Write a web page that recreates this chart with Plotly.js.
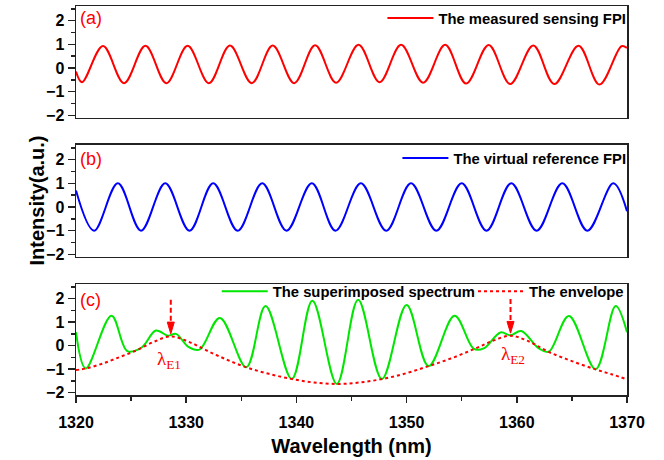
<!DOCTYPE html>
<html>
<head>
<meta charset="utf-8">
<script src="https://cdn.plot.ly/plotly-3.0.1.min.js"></script>
<style>html,body{margin:0;padding:0;background:#fff;}#chart{width:664px;height:460px;}</style>
</head>
<body>
<div id="chart"></div>
<script>
// ---- data ----
// (a) measured sensing FPI: extrema positions (nm) and intensities
const sensX = [1320, 1320.55, 1322.45, 1324.36, 1326.3, 1328.2, 1330.13, 1332.06, 1333.97, 1335.95, 1337.85, 1339.8, 1341.7, 1343.6, 1345.64, 1347.55, 1349.5, 1351.5, 1353.5, 1355.4, 1357.45, 1359.4, 1361.5, 1363.4, 1365.6, 1367.5, 1369.5, 1370];
const sensY = [-0.15, -0.6, 0.93, -0.64, 0.94, -0.64, 0.94, -0.64, 0.95, -0.64, 0.95, -0.64, 0.96, -0.62, 0.98, -0.6, 0.98, -0.62, 0.98, -0.66, 0.97, -0.68, 0.95, -0.68, 0.94, -0.7, 0.92, 0.85];
// (b) virtual reference FPI
const refX = [1320, 1321.64, 1323.8, 1325.9, 1328.1, 1330.3, 1332.45, 1334.67, 1336.9, 1339.1, 1341.4, 1343.55, 1345.85, 1348.15, 1350.4, 1352.7, 1355.0, 1357.25, 1359.5, 1361.8, 1364.13, 1366.4, 1368.76, 1370];
const refY = [0.7, -1, 1, -1, 1, -1, 1, -1, 1, -1, 1, -1, 1, -1, 1, -1, 1, -1, 1, -1, 1, -1, 1, -0.18];
// (c) superimposed spectrum
const supX = [1320, 1320.88, 1323.22, 1324.65, 1325.95, 1327.25, 1328.37, 1329.07, 1330.2, 1331.2, 1333.06, 1335.45, 1337.2, 1339.58, 1341.45, 1343.67, 1345.6, 1347.76, 1350.0, 1352.0, 1354.35, 1356.1, 1357.0, 1358.52, 1359.43, 1360.4, 1362.0, 1362.9, 1364.73, 1367.15, 1368.97, 1370];
const supY = [0.57, -0.97, 1.27, -0.23, -0.08, 0.64, 0.42, 0.5, -0.05, -0.17, 1.18, -0.92, 1.68, -1.42, 1.91, -1.63, 1.95, -1.42, 1.73, -0.87, 1.27, -0.14, -0.12, 0.56, 0.44, 0.62, -0.12, -0.26, 1.26, -1.0, 1.68, 0.57];
// (c) envelope
const envX = [1320, 1321, 1322.5, 1324, 1325.5, 1327, 1328.6, 1330.3, 1332, 1333.7, 1335.5, 1337.5, 1339.6, 1341.6, 1343.7, 1345.7, 1347.8, 1350, 1352, 1354, 1356.1, 1357.8, 1359.4, 1361, 1362.9, 1365, 1367.15, 1368.6, 1370];
const envY = [-1.04, -0.96, -0.75, -0.48, -0.2, 0.15, 0.39, 0.15, -0.24, -0.6, -0.93, -1.2, -1.42, -1.57, -1.63, -1.57, -1.42, -1.17, -0.87, -0.55, -0.15, 0.2, 0.42, 0.2, -0.27, -0.66, -1.01, -1.22, -1.43];
// marked envelope peaks
const peakNames = ['λ<sub>E1</sub>', 'λ<sub>E2</sub>'];
const peakX = [1328.6, 1359.43];
const arrowTop = [1.95, 1.98];
const arrowTip = [0.5, 0.53];
const labelX = [1328.4, 1359.65];
const labelY = [-0.62, -0.42];
const panelTags = ['(a)', '(b)', '(c)'];
const seriesNames = ['The measured sensing FPI', 'The virtual reference FPI', 'The superimposed spectrum', 'The envelope'];
const xTickVals = [1320, 1330, 1340, 1350, 1360, 1370];
const yTickVals = [-2, -1, 0, 1, 2];

const FONT = 'Liberation Sans, Arial, sans-serif';
const frame = '#222';

const traces = [
  {x: sensX, y: sensY, xaxis: 'x3', yaxis: 'y3', mode: 'lines', name: seriesNames[0],
   line: {color: '#ff0000', width: 2, shape: 'spline', smoothing: 1}, legend: 'legend'},
  {x: refX, y: refY, xaxis: 'x2', yaxis: 'y2', mode: 'lines', name: seriesNames[1],
   line: {color: '#0000ff', width: 2, shape: 'spline', smoothing: 1}, legend: 'legend2'},
  {x: supX, y: supY, xaxis: 'x', yaxis: 'y', mode: 'lines', name: seriesNames[2],
   line: {color: '#00e600', width: 2, shape: 'spline', smoothing: 1}, legend: 'legend3'},
  {x: envX, y: envY, xaxis: 'x', yaxis: 'y', mode: 'lines', name: seriesNames[3],
   line: {color: '#ff0000', width: 2, dash: 'dot', shape: 'spline', smoothing: 1}, legend: 'legend4'}
];

function yax(domain) {
  return {domain: domain, range: [-2.1, 2.62], tickvals: yTickVals, ticks: 'outside', ticklen: 7, tickwidth: 1.5,
    tickcolor: frame, showline: true, mirror: true, linecolor: frame, linewidth: 1.5, zeroline: false, showgrid: false,
    tickfont: {family: FONT, size: 16, color: '#000', weight: 700},
    minor: {dtick: 0.5, ticks: 'outside', ticklen: 4, tickwidth: 1.5, tickcolor: frame, showgrid: false}};
}
function xax(anchor, showLabels) {
  const a = {anchor: anchor, domain: [0, 1], range: [1320, 1370], showline: true, mirror: true, linecolor: frame,
    linewidth: 1.5, zeroline: false, showgrid: false};
  if (showLabels) {
    Object.assign(a, {tickvals: xTickVals, ticks: 'outside', ticklen: 6, tickwidth: 1.5, tickcolor: frame,
      ticklabelstandoff: 6,
      tickfont: {family: FONT, size: 16, color: '#000', weight: 700},
      minor: {dtick: 5, tick0: 1320, ticks: 'outside', ticklen: 4, tickwidth: 1.5, tickcolor: frame, showgrid: false},
      title: {text: 'Wavelength (nm)', font: {family: FONT, size: 20, color: '#000', weight: 700}, standoff: 9}});
  } else {
    Object.assign(a, {showticklabels: false, ticks: '', matches: 'x'});
  }
  return a;
}

const legendFont = {family: FONT, size: 14.8, color: '#000', weight: 700};
const shapes = [];
const annotations = [];
peakX.forEach((px, i) => {
  const baseY = arrowTip[i] + 0.5;
  shapes.push({type: 'line', xref: 'x', yref: 'y', x0: px, x1: px, y0: arrowTop[i], y1: baseY,
    line: {color: '#ff0000', width: 2, dash: '5px,3px'}});
  shapes.push({type: 'path', xref: 'x', yref: 'y',
    path: `M ${px - 0.32},${baseY} L ${px + 0.32},${baseY} L ${px},${arrowTip[i]} Z`,
    fillcolor: '#ff0000', line: {color: '#ff0000', width: 1}});
  annotations.push({xref: 'x', yref: 'y', x: labelX[i], y: labelY[i], text: peakNames[i], showarrow: false,
    font: {family: 'Liberation Serif, Times New Roman, serif', size: 19, color: '#ff0000'}});
});
const tagAxes = [['x3', 'y3', 2.1], ['x2', 'y2', 2.04], ['x', 'y', 1.94]];
panelTags.forEach((t, i) => {
  annotations.push({xref: tagAxes[i][0], yref: tagAxes[i][1], x: 1320.2, y: tagAxes[i][2], xanchor: 'left',
    text: t, showarrow: false, font: {family: FONT, size: 18, color: '#ff0000'}});
});
annotations.push({xref: 'paper', yref: 'paper', x: -0.0944, y: 0.5, textangle: -90, text: 'Intensity(a.u.)',
  showarrow: false, font: {family: FONT, size: 20, color: '#000', weight: 700}});

const legBase = {bgcolor: 'rgba(0,0,0,0)', font: legendFont, itemwidth: 46, yanchor: 'top'};
const layout = {
  width: 664, height: 460,
  margin: {l: 76, r: 37, t: 6, b: 65, autoexpand: false},
  paper_bgcolor: '#fff', plot_bgcolor: '#fff',
  showlegend: true,
  xaxis: xax('y', true),
  xaxis2: xax('y2', false),
  xaxis3: xax('y3', false),
  yaxis: yax([0, 0.2853]),
  yaxis2: yax([0.3555, 0.6427]),
  yaxis3: yax([0.7129, 1]),
  legend: Object.assign({x: 1.008, xanchor: 'right', y: 1.0103}, legBase),
  legend2: Object.assign({x: 1.008, xanchor: 'right', y: 0.6504}, legBase),
  legend3: Object.assign({x: 0.2554, xanchor: 'left', y: 0.3084}, legBase),
  legend4: Object.assign({x: 0.7205, xanchor: 'left', y: 0.3084}, legBase),
  shapes: shapes,
  annotations: annotations
};

Plotly.newPlot('chart', traces, layout, {displayModeBar: false, staticPlot: true});
</script>
</body>
</html>
